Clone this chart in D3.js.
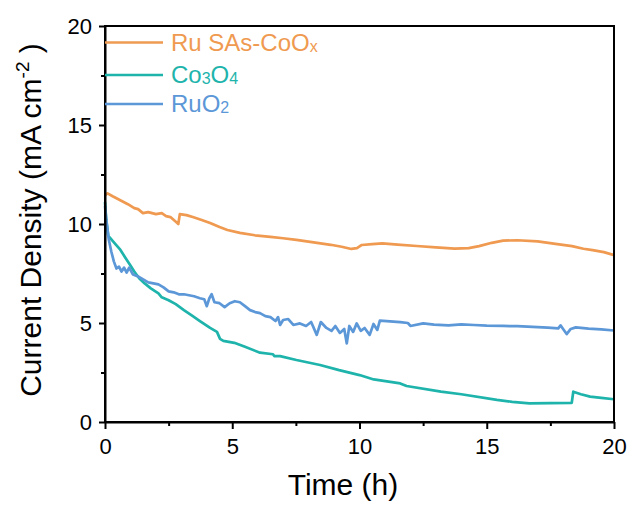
<!DOCTYPE html>
<html>
<head>
<meta charset="utf-8">
<script src="https://cdn.jsdelivr.net/npm/d3@7"></script>
<style>
  body { margin: 0; background: #fff; }
  svg { font-family: "Liberation Sans", Arial, sans-serif; }
  .axis path, .axis line { stroke: #000; stroke-width: 2px; }
  .axis text { font-size: 22px; fill: #000; }
</style>
</head>
<body>
<svg id="chart"></svg>
<script>
  const margin = {top: 26, right: 18, bottom: 85, left: 105},
        width = 632 - margin.left - margin.right,
        height = 507 - margin.top - margin.bottom;

  // Ru SAs-CoOx
  const ruTime = [0, 0.1, 0.3, 0.6, 0.9, 1.15, 1.3, 1.49, 1.7, 2.0, 2.23, 2.4, 2.57, 2.84, 2.88, 2.94, 3.2, 3.45, 3.8, 4.13, 4.5, 4.81, 5.3, 5.89, 6.5, 7.0, 7.52, 8.2, 8.87, 9.3, 9.68, 9.9, 10.09, 10.5, 10.9, 11.5, 12.25, 13.0, 13.74, 14.29, 14.7, 15.2, 15.64, 16.2, 17.0, 17.7, 18.35, 18.8, 19.16, 19.6, 20];
  const ruVal  = [11.45, 11.55, 11.4, 11.2, 11.0, 10.8, 10.75, 10.55, 10.6, 10.5, 10.55, 10.4, 10.35, 10.05, 10.0, 10.5, 10.45, 10.35, 10.2, 10.05, 9.85, 9.7, 9.55, 9.43, 9.35, 9.28, 9.2, 9.07, 8.95, 8.85, 8.74, 8.78, 8.94, 8.98, 9.02, 8.96, 8.89, 8.82, 8.76, 8.78, 8.88, 9.05, 9.16, 9.18, 9.12, 9.0, 8.88, 8.75, 8.68, 8.58, 8.43];

  // Co3O4
  const coTime = [0, 0.05, 0.13, 0.2, 0.4, 0.6, 0.8, 1.0, 1.15, 1.35, 1.56, 1.8, 2.1, 2.23, 2.5, 2.78, 3.1, 3.45, 3.73, 4.13, 4.4, 4.52, 4.65, 5.08, 5.5, 6.09, 6.6, 6.65, 6.88, 7.52, 8.45, 9.2, 10.0, 10.56, 11.6, 11.85, 13.2, 14.0, 15.4, 16.0, 16.68, 17.5, 18.34, 18.4, 18.7, 19.06, 19.5, 20];
  const coVal  = [11.1, 10.2, 9.4, 9.3, 9.0, 8.7, 8.3, 7.9, 7.6, 7.25, 7.0, 6.75, 6.5, 6.3, 6.15, 5.95, 5.65, 5.35, 5.1, 4.75, 4.55, 4.2, 4.1, 4.0, 3.8, 3.5, 3.42, 3.33, 3.33, 3.13, 2.88, 2.62, 2.37, 2.15, 1.95, 1.82, 1.53, 1.4, 1.12, 1.02, 0.94, 0.95, 0.97, 1.53, 1.4, 1.28, 1.22, 1.15];

  // RuO2
  const roTime = [0, 0.05, 0.15, 0.25, 0.35, 0.45, 0.55, 0.65, 0.75, 0.85, 0.95, 1.1, 1.3, 1.5, 1.7, 1.9, 2.1, 2.3, 2.5, 2.7, 2.9, 3.1, 3.3, 3.5, 3.73, 3.9, 4.0, 4.1, 4.19, 4.3, 4.5, 4.7, 4.9, 5.1, 5.3, 5.5, 5.7, 5.9, 6.09, 6.3, 6.5, 6.7, 6.8, 6.88, 7.0, 7.2, 7.4, 7.66, 7.9, 8.1, 8.32, 8.48, 8.7, 8.9, 9.05, 9.23, 9.4, 9.5, 9.6, 9.75, 9.89, 10.05, 10.2, 10.4, 10.55, 10.7, 10.8, 11.2, 11.6, 11.9, 12.0, 12.5, 12.93, 13.5, 14.0, 14.5, 15.0, 15.64, 16.2, 16.8, 17.4, 17.81, 17.9, 18.0, 18.14, 18.3, 18.5, 19.0, 19.5, 20];
  const roVal  = [10.9, 10.2, 9.2, 8.6, 8.1, 7.75, 7.85, 7.6, 7.8, 7.55, 7.8, 7.45, 7.35, 7.2, 7.05, 7.0, 6.95, 6.8, 6.6, 6.55, 6.45, 6.45, 6.4, 6.35, 6.25, 6.2, 5.85, 6.25, 6.45, 6.05, 6.0, 5.8, 6.0, 6.1, 6.05, 5.85, 5.65, 5.55, 5.5, 5.35, 5.3, 5.1, 5.3, 4.9, 5.15, 5.2, 4.9, 4.98, 4.85, 5.05, 4.4, 5.05, 4.75, 4.6, 4.85, 4.5, 4.7, 3.97, 4.85, 4.55, 4.98, 4.6, 4.75, 4.4, 4.95, 4.65, 5.12, 5.08, 5.04, 5.0, 4.85, 4.98, 4.92, 4.88, 4.93, 4.9, 4.87, 4.85, 4.84, 4.8, 4.77, 4.73, 4.88, 4.7, 4.44, 4.7, 4.78, 4.72, 4.68, 4.62];

  const xTicks = [0, 5, 10, 15, 20],
        yTicks = [0, 5, 10, 15, 20],
        minorTicks = [2.5, 7.5, 12.5, 17.5];

  const series = [
    {name: "Ru SAs-CoO", sub: "x", time: ruTime, val: ruVal, color: "#EF9A50"},
    {name: "Co", sub: "3", rest: "O", sub2: "4", time: coTime, val: coVal, color: "#1EB4AC"},
    {name: "RuO", sub: "2", time: roTime, val: roVal, color: "#5C97D8"}
  ];

  let x = d3.scaleLinear().domain([0, 20]).range([0, width]);
  let y = d3.scaleLinear().domain([0, 20]).range([height, 0]);

  let svg = d3.select("#chart")
              .attr("width", 632)
              .attr("height", 507);

  let chart = svg.append("g")
                 .attr("transform", "translate(" + margin.left + "," + margin.top + ")");

  let line = d3.line()
               .x((d) => { return x(d[0]); })
               .y((d) => { return y(d[1]); });

  // Data lines
  series.forEach((s) => {
    chart.append("path")
         .datum(s.time.map((t, i) => [t, s.val[i]]))
         .attr("d", line)
         .style("fill", "none")
         .style("stroke", s.color)
         .style("stroke-width", "2.7px")
         .style("stroke-linejoin", "round");
  });

  // minor ticks
  chart.append("g")
       .attr("class", "axis")
       .attr("transform", "translate(0," + height + ")")
       .call(d3.axisBottom(x).tickValues(minorTicks).tickSize(4).tickFormat(""))
       .select(".domain").remove();
  chart.append("g")
       .attr("class", "axis")
       .call(d3.axisLeft(y).tickValues(minorTicks).tickSize(4).tickFormat(""))
       .select(".domain").remove();

  // x-Axis
  chart.append("g")
       .attr("class", "axis")
       .attr("transform", "translate(0," + height + ")")
       .call(d3.axisBottom(x).tickValues(xTicks).tickSizeInner(7).tickSizeOuter(0).tickPadding(9));

  // y-Axis
  chart.append("g")
       .attr("class", "axis")
       .call(d3.axisLeft(y).tickValues(yTicks).tickSizeInner(6).tickSizeOuter(0).tickPadding(7));

  // Border
  chart.append("rect")
       .attr("width", width)
       .attr("height", height)
       .style("stroke", "black")
       .style("stroke-width", "2px")
       .style("fill", "none");

  // Legend
  let legend = chart.append("g");
  series.forEach((s, i) => {
    let ly = [16.5, 49, 78][i];
    legend.append("line")
          .attr("x1", 0).attr("x2", 58)
          .attr("y1", ly).attr("y2", ly)
          .style("stroke", s.color)
          .style("stroke-width", "2.7px");
    let t = legend.append("text")
                  .attr("x", 66)
                  .attr("y", ly + 8)
                  .attr("font-size", 24)
                  .attr("fill", s.color);
    t.append("tspan").text(s.name);
    t.append("tspan").attr("font-size", 16).attr("dy", 1).text(s.sub);
    if (s.rest) {
      t.append("tspan").attr("dy", -1).text(s.rest);
      t.append("tspan").attr("font-size", 16).attr("dy", 1).text(s.sub2);
    }
  });

  // x-Axis Label
  svg.append("text")
     .attr("text-anchor", "middle")
     .attr("x", 343)
     .attr("y", 495)
     .attr("font-size", 30)
     .text("Time (h)");

  // y-Axis Label
  let yLabel = svg.append("text")
                  .attr("text-anchor", "middle")
                  .attr("transform", "translate(41,220) rotate(-90)")
                  .attr("font-size", 30);
  yLabel.append("tspan").text("Current Density (mA cm");
  yLabel.append("tspan").attr("font-size", 19).attr("dy", -12).text("-2");
  yLabel.append("tspan").attr("dy", 12).text(" )");
</script>
</body>
</html>
